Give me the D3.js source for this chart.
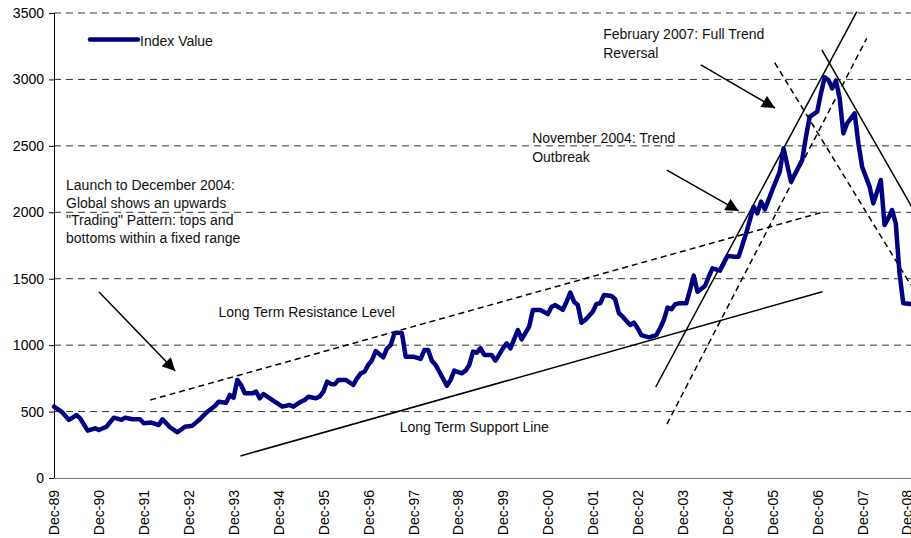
<!DOCTYPE html>
<html>
<head>
<meta charset="utf-8">
<script src="https://cdn.jsdelivr.net/npm/d3@7/dist/d3.min.js"></script>
<style>
  html, body { margin: 0; padding: 0; background: #fff; }
  svg text { font-family: "Liberation Sans", Arial, sans-serif; }
</style>
</head>
<body>
<svg id="chart" width="911" height="538"></svg>
<script>
// ---- Data ----
const dates = [
"1989-12","1990-02","1990-04","1990-06","1990-07","1990-09","1990-11","1990-12",
"1991-02","1991-04","1991-06","1991-07","1991-09","1991-11","1991-12",
"1992-02","1992-04","1992-05","1992-07","1992-09","1992-11",
"1993-01","1993-03","1993-05","1993-07","1993-08","1993-10","1993-11","1993-12",
"1994-01","1994-02","1994-03","1994-05","1994-06","1994-07","1994-08","1994-09","1994-11",
"1995-01","1995-03","1995-04","1995-06","1995-07","1995-08","1995-10","1995-11","1995-12",
"1996-01","1996-02","1996-03","1996-04","1996-06","1996-08","1996-09","1996-10","1996-11","1996-12",
"1997-01","1997-02","1997-04","1997-05","1997-06","1997-07","1997-08","1997-09","1997-10","1997-12",
"1998-02","1998-03","1998-04","1998-05","1998-06","1998-07","1998-09","1998-10","1998-11",
"1999-01","1999-02","1999-03","1999-04","1999-05","1999-06","1999-07","1999-09","1999-10","1999-12",
"2000-01","2000-02","2000-04","2000-05","2000-07","2000-08","2000-10","2000-12",
"2001-01","2001-02","2001-04","2001-05","2001-06","2001-07","2001-08","2001-09","2001-10","2001-12",
"2002-01","2002-02","2002-03","2002-05","2002-06","2002-07","2002-08","2002-10","2002-11","2002-12",
"2003-01","2003-03","2003-05","2003-06","2003-07","2003-08","2003-09","2003-10","2003-11",
"2004-01","2004-02","2004-03","2004-04","2004-06","2004-07","2004-08","2004-10","2004-12",
"2005-02","2005-03","2005-05","2005-07","2005-08","2005-09","2005-10","2005-12",
"2006-02","2006-03","2006-05","2006-08","2006-09","2006-10","2006-12",
"2007-01","2007-02","2007-03","2007-04","2007-05","2007-06","2007-07","2007-08","2007-10","2007-11","2007-12",
"2008-02","2008-03","2008-05","2008-06","2008-07","2008-08","2008-09","2008-10","2008-11","2009-01"
];
const indexValues = [
537,500,437,474,449,356,374,361,
386,454,437,454,442,442,412,
417,399,442,382,344,386,
394,442,499,542,574,567,625,604,
738,700,637,637,650,600,632,612,574,
537,549,537,574,587,612,600,612,650,
725,708,705,738,738,700,750,788,800,851,
888,956,908,976,1001,1089,1094,1089,913,913,
896,963,963,883,851,800,695,738,808,
788,808,851,951,943,976,926,926,883,976,
1014,976,1114,1044,1139,1265,1265,1234,
1289,1302,1265,1327,1395,1327,1302,1169,1189,1252,
1310,1315,1377,1370,1345,1240,1214,1152,1169,1127,
1076,1059,1076,1127,1189,1282,1270,1307,1315,
1315,1415,1523,1402,1445,1515,1578,1561,1671,
1666,1666,1842,2042,1992,2080,2022,2168,
2306,2482,2230,2394,2569,2719,2757,
2896,3016,2996,2933,2991,2858,2594,2670,2745,2519,2343,
2193,2067,2243,1904,1955,2017,1917,1541,1315,1310
];
const seriesName = "Index Value";
const yTicks = [0,500,1000,1500,2000,2500,3000,3500];
const xTickYears = [1989,1990,1991,1992,1993,1994,1995,1996,1997,1998,1999,2000,2001,2002,2003,2004,2005,2006,2007,2008];

// Trend lines: [decimal year, value] endpoints
const resistanceLine = [[1992.06, 587], [2007.03, 2000]];
const supportLine    = [[1994.07, 166], [2007.03, 1402]];
const upTrendSolid   = [[2003.32, 685], [2007.80, 3510]];
const upTrendDashed  = [[2003.57, 406], [2008.02, 3310]];
const downTrendSolid = [[2007.02, 3222], [2009.02, 2042]];
const downTrendDashed= [[2005.97, 3126], [2009.00, 1453]];
// Arrows: [from, to]
const arrowLaunch   = [[1990.92, 1400], [1992.617, 805]];
const arrowNovember = [[2003.567, 2318], [2005.167, 2010]];
const arrowFebruary = [[2004.325, 3109], [2005.975, 2785]];
// Text annotations: anchor [decimal year, value] + lines
const noteLaunch = {at: [1990.185, 2168], lines: ["Launch to December 2004:", "Global shows an upwards", "\"Trading\" Pattern: tops and", "bottoms within a fixed range"]};
const noteResistance = {at: [1993.58, 1210], lines: ["Long Term Resistance Level"]};
const noteSupport = {at: [1997.617, 348], lines: ["Long Term Support Line"]};
const noteNovember = {at: [2000.567, 2524], lines: ["November 2004: Trend", "Outbreak"]};
const noteFebruary = {at: [2002.15, 3302], lines: ["February 2007: Full Trend", "Reversal"]};

// ---- Drawing ----
const svg = d3.select("#chart");
const pL = 54, pR = 911, pT = 13, pB = 478;

const toDec = s => { const [yy, mm] = s.split("-").map(Number); return yy + (mm - 1) / 12; };
const data = dates.map((d, i) => ({x: toDec(d), v: indexValues[i]}));

const x = d3.scaleLinear().domain([1989 + 11/12, 2008 + 11/12]).range([54, 907]);
const y = d3.scaleLinear().domain([0, 3500]).range([pB, pT]);

// Gridlines
svg.append("g").selectAll("line").data(yTicks.filter(t => t > 0)).join("line")
  .attr("x1", pL).attr("x2", pR)
  .attr("y1", d => y(d)).attr("y2", d => y(d))
  .attr("stroke", "#333").attr("stroke-width", 1).attr("stroke-dasharray", "7,5");

// X axis
const xAxis = svg.append("g").attr("transform", `translate(0,${pB})`)
  .call(d3.axisBottom(x).tickValues(xTickYears.map(yy => yy + 11/12)).tickSize(0)
    .tickFormat((d, i) => "Dec-" + String(xTickYears[i]).slice(2)));
xAxis.select(".domain").attr("stroke", "#777").attr("d", `M${pL},0.5H${pR}`);
xAxis.selectAll("text")
  .attr("transform", "rotate(-90)").attr("x", -12).attr("y", 0).attr("dy", "0.35em")
  .attr("text-anchor", "end").attr("font-size", 14).attr("fill", "#000")
  .style("font-family", "'Liberation Sans', Arial, sans-serif");

// Y axis
const yAxis = svg.append("g").attr("transform", `translate(${pL},0)`)
  .call(d3.axisLeft(y).tickValues(yTicks).tickSize(5).tickPadding(5).tickFormat(d3.format("d")));
yAxis.select(".domain").attr("stroke", "#000").attr("d", `M0.5,${pT}V${pB}`);
yAxis.selectAll(".tick line").attr("stroke", "#000");
yAxis.selectAll("text").attr("font-size", 14).attr("fill", "#000")
  .style("font-family", "'Liberation Sans', Arial, sans-serif");

// Trend lines
const seg = d3.line().x(d => x(d[0])).y(d => y(d[1]));
function trend(pts, dashed) {
  svg.append("path").attr("d", seg(pts)).attr("fill", "none")
    .attr("stroke", "#000").attr("stroke-width", 1.5)
    .attr("stroke-dasharray", dashed ? "6,4" : null);
}
trend(resistanceLine, true);
trend(supportLine, false);
trend(upTrendSolid, false);
trend(upTrendDashed, true);
trend(downTrendSolid, false);
trend(downTrendDashed, true);

// Arrows
svg.append("defs").append("marker")
  .attr("id", "arrow").attr("viewBox", "0 0 10 10").attr("refX", 10).attr("refY", 5)
  .attr("markerWidth", 15).attr("markerHeight", 13).attr("markerUnits", "userSpaceOnUse")
  .attr("orient", "auto")
  .append("path").attr("d", "M0,0L10,5L0,10Z").attr("fill", "#000");
[arrowLaunch, arrowNovember, arrowFebruary].forEach(a => {
  svg.append("path").attr("d", seg(a)).attr("fill", "none")
    .attr("stroke", "#000").attr("stroke-width", 1.5).attr("marker-end", "url(#arrow)");
});

// Index line
svg.append("path").datum(data)
  .attr("d", d3.line().x(d => x(d.x)).y(d => y(d.v)))
  .attr("fill", "none").attr("stroke", "#000080").attr("stroke-width", 4.5)
  .attr("stroke-linejoin", "round").attr("stroke-linecap", "round");

// Annotations text
function note(n, spacing) {
  const t = svg.append("text").attr("font-size", 14).attr("fill", "#111")
    .attr("x", x(n.at[0])).attr("y", y(n.at[1]));
  n.lines.forEach((l, i) => t.append("tspan").attr("x", x(n.at[0])).attr("dy", i === 0 ? 0 : spacing).text(l));
}
note(noteLaunch, 17.7);
note(noteResistance, 18);
note(noteSupport, 18);
note(noteNovember, 19);
note(noteFebruary, 18.4);

// Legend
const lg = svg.append("g");
lg.append("line").attr("x1", 90).attr("x2", 138).attr("y1", 39.5).attr("y2", 39.5)
  .attr("stroke", "#000080").attr("stroke-width", 4.5).attr("stroke-linecap", "round");
lg.append("text").attr("x", 140).attr("y", 45.5).attr("font-size", 14).attr("fill", "#111").text(seriesName);
</script>
</body>
</html>
